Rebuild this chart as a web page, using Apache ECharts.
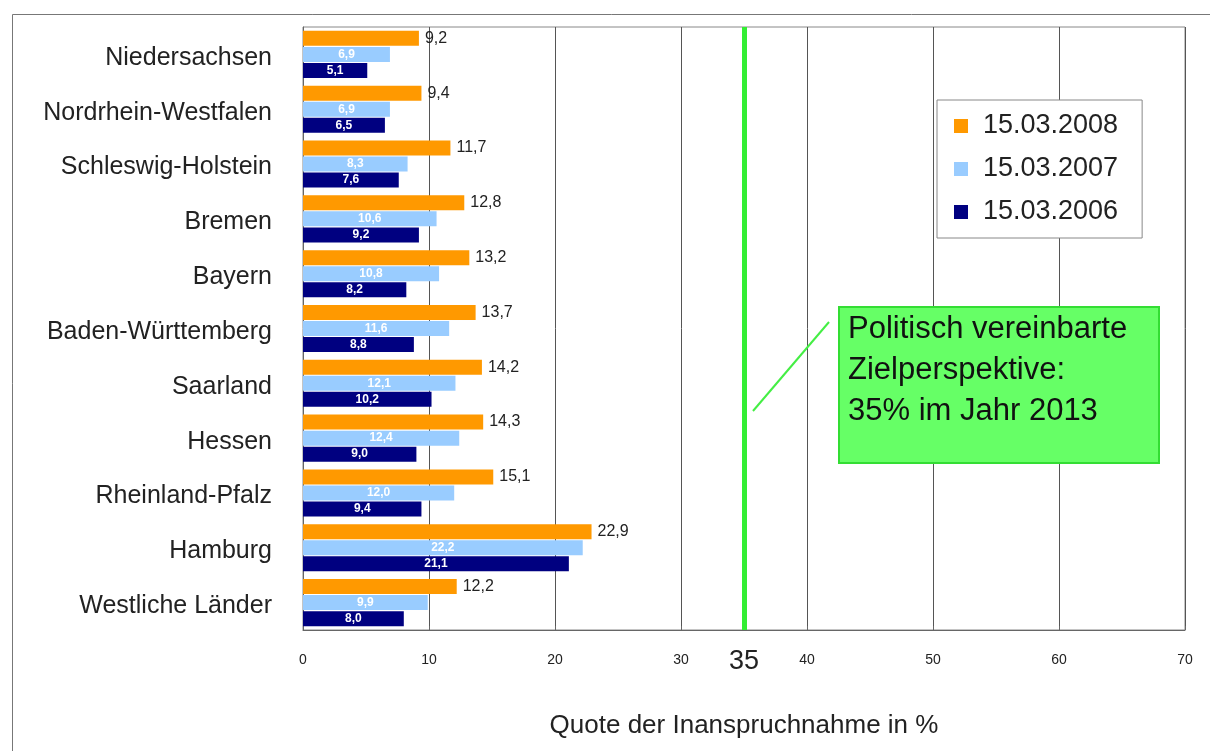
<!DOCTYPE html>
<html>
<head>
<meta charset="utf-8">
<script src="https://cdn.jsdelivr.net/npm/echarts@6/dist/echarts.min.js"></script>
<style>
html,body{margin:0;padding:0;background:#fff;}
#chart{width:1210px;height:751px;}
</style>
</head>
<body>
<div id="chart"></div>
<script>
const categories = ['Niedersachsen','Nordrhein-Westfalen','Schleswig-Holstein','Bremen','Bayern','Baden-Württemberg','Saarland','Hessen','Rheinland-Pfalz','Hamburg','Westliche Länder'];
const seriesNames = ['15.03.2008','15.03.2007','15.03.2006'];
const values2008 = [9.2, 9.4, 11.7, 12.8, 13.2, 13.7, 14.2, 14.3, 15.1, 22.9, 12.2];
const values2007 = [6.9, 6.9, 8.3, 10.6, 10.8, 11.6, 12.1, 12.4, 12.0, 22.2, 9.9];
const values2006 = [5.1, 6.5, 7.6, 9.2, 8.2, 8.8, 10.2, 9.0, 9.4, 21.1, 8.0];
const targetValue = 35;
const xTicks = {min: 0, max: 70, interval: 10};

const fmt = p => p.value.toFixed(1).replace('.', ',');
const FONT = 'Liberation Sans, Arial, sans-serif';

const chart = echarts.init(document.getElementById('chart'));
const insideLabel = {show: true, position: 'inside', color: '#fff', fontWeight: 'bold', fontSize: 12, fontFamily: FONT, formatter: fmt};

chart.setOption({
  animation: false,
  backgroundColor: '#fff',
  textStyle: {fontFamily: FONT},
  grid: {left: 303, top: 27, width: 882, height: 603, show: true, borderColor: '#888', borderWidth: 1},
  legend: {
    data: seriesNames, orient: 'vertical', left: 937, top: 100,
    itemWidth: 14, itemHeight: 14, itemGap: 13, icon: 'rect',
    padding: [11, 24, 11, 17],
    backgroundColor: '#fff', borderColor: '#888', borderWidth: 1,
    textStyle: {fontSize: 27, color: '#222', lineHeight: 30, padding: [0, 0, 0, 10], fontFamily: FONT}
  },
  xAxis: {
    type: 'value', min: xTicks.min, max: xTicks.max, interval: xTicks.interval,
    name: 'Quote der Inanspruchnahme in %', nameLocation: 'middle', nameGap: 83,
    nameTextStyle: {fontSize: 26, color: '#222', fontFamily: FONT},
    axisLine: {show: true, lineStyle: {color: '#666'}},
    axisTick: {show: true, length: 4, inside: true, lineStyle: {color: '#666'}},
    axisLabel: {fontSize: 14, color: '#222', margin: 23, fontFamily: FONT},
    splitLine: {show: true, lineStyle: {color: '#555', width: 1}}
  },
  yAxis: {
    type: 'category', data: categories, inverse: true,
    axisLine: {show: true, lineStyle: {color: '#666'}},
    axisTick: {show: false},
    axisLabel: {
      margin: 31, color: '#222', fontSize: 25, fontFamily: FONT,
      formatter: v => '{c|' + v + '}',
      rich: {c: {fontSize: 25, color: '#222', fontFamily: FONT, padding: [7, 0, 0, 0]}}
    }
  },
  series: [
    {name: seriesNames[0], type: 'bar', data: values2008, barWidth: 15, barGap: '7%', barCategoryGap: '12%',
     itemStyle: {color: '#ff9900'},
     label: {show: true, position: 'right', distance: 6, color: '#222', fontSize: 16, fontFamily: FONT, formatter: fmt},
     markLine: {
       silent: true, symbol: 'none',
       lineStyle: {color: '#33ee33', width: 5, type: 'solid'},
       label: {show: true, position: 'end', distance: 18, formatter: String(targetValue), fontSize: 27, color: '#222', fontFamily: FONT},
       data: [{xAxis: targetValue}]
     }},
    {name: seriesNames[1], type: 'bar', data: values2007, barWidth: 15, barGap: '7%',
     itemStyle: {color: '#99ccff'}, label: insideLabel},
    {name: seriesNames[2], type: 'bar', data: values2006, barWidth: 15, barGap: '7%',
     itemStyle: {color: '#000080'}, label: insideLabel}
  ],
  graphic: [
    {type: 'rect', left: 10, top: 12, shape: {width: 1220, height: 760}, style: {fill: 'none', stroke: '#777', lineWidth: 1}, z: -1, silent: true},
    {type: 'line', shape: {x1: 753, y1: 411, x2: 829, y2: 322}, style: {stroke: '#44ee44', lineWidth: 2}, z: 10},
    {type: 'rect', left: 838, top: 306, shape: {width: 320, height: 156}, style: {fill: '#66ff66', stroke: '#33dd33', lineWidth: 2}, z: 10},
    {type: 'text', left: 848, top: 309, z: 11,
     style: {text: 'Politisch vereinbarte\nZielperspektive:\n35% im Jahr 2013', fill: '#111', fontSize: 31, lineHeight: 41, fontFamily: FONT}}
  ]
});
</script>
</body>
</html>
